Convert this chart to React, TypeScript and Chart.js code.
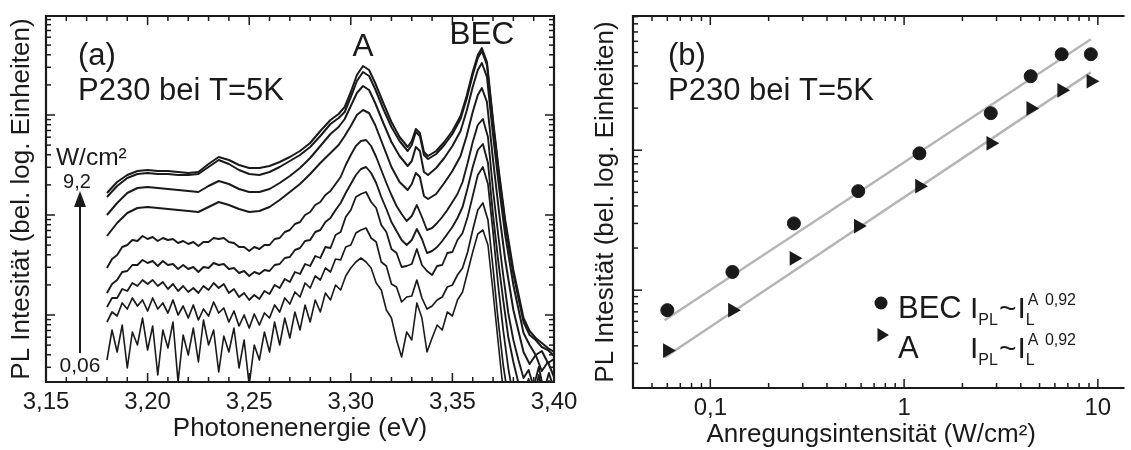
import React, { useEffect, useRef } from 'react';
import { Chart, registerables } from 'chart.js';

Chart.register(...registerables);

const FAMILY = "'Liberation Sans', Arial, Helvetica, sans-serif";
const INK = '#1a1a1a';
const FIT_GRAY = '#b5b5b5';
const font = (size: number) => `${size}px ${FAMILY}`;

// ---------------- Panel (a): PL spectra, log10 of PL intensity (arbitrary log units) ----------------
const energyCoarse = [3.18, 3.185, 3.19, 3.195, 3.2, 3.205, 3.21, 3.215, 3.22, 3.225, 3.23, 3.235, 3.24, 3.245, 3.25, 3.255, 3.26, 3.265, 3.27, 3.275, 3.28, 3.285, 3.29, 3.294, 3.297, 3.3, 3.303, 3.306, 3.309, 3.312, 3.316, 3.32, 3.324, 3.328, 3.33, 3.332, 3.334, 3.336, 3.338, 3.342, 3.346, 3.35, 3.354, 3.357, 3.36, 3.3625, 3.3645, 3.367, 3.37, 3.373, 3.376, 3.38, 3.385, 3.388, 3.391, 3.394, 3.397, 3.4];
const energyFine = [3.18, 3.1825, 3.185, 3.1875, 3.19, 3.1925, 3.195, 3.1975, 3.2, 3.2025, 3.205, 3.2075, 3.21, 3.2125, 3.215, 3.2175, 3.22, 3.2225, 3.225, 3.2275, 3.23, 3.2325, 3.235, 3.2375, 3.24, 3.2425, 3.245, 3.2475, 3.25, 3.2525, 3.255, 3.2575, 3.26, 3.2625, 3.265, 3.2675, 3.27, 3.2725, 3.275, 3.2775, 3.28, 3.2825, 3.285, 3.2875, 3.29, 3.2925, 3.295, 3.2975, 3.3, 3.3025, 3.305, 3.3075, 3.31, 3.3125, 3.315, 3.3175, 3.32, 3.3225, 3.325, 3.3275, 3.33, 3.3325, 3.335, 3.3375, 3.34, 3.3425, 3.345, 3.3475, 3.35, 3.3525, 3.355, 3.3575, 3.36, 3.3625, 3.365, 3.3675, 3.37, 3.3725, 3.375, 3.3775, 3.38, 3.3825, 3.385, 3.3875, 3.39, 3.3925, 3.395, 3.3975, 3.4];

const logPL_9_2 = [1.22, 1.33, 1.40, 1.44, 1.45, 1.44, 1.44, 1.43, 1.42, 1.43, 1.51, 1.58, 1.55, 1.50, 1.47, 1.47, 1.49, 1.53, 1.58, 1.64, 1.72, 1.84, 1.95, 2.01, 2.08, 2.23, 2.40, 2.49, 2.45, 2.32, 2.12, 1.93, 1.78, 1.68, 1.74, 1.86, 1.82, 1.63, 1.59, 1.64, 1.73, 1.84, 1.99, 2.19, 2.43, 2.60, 2.67, 2.53, 1.95, 1.42, 0.95, 0.45, -0.03, -0.16, -0.23, -0.28, -0.33, -0.37];
const logPL_6_5 = [1.18, 1.29, 1.37, 1.41, 1.42, 1.41, 1.41, 1.40, 1.40, 1.41, 1.48, 1.55, 1.51, 1.45, 1.41, 1.40, 1.43, 1.48, 1.54, 1.60, 1.68, 1.79, 1.91, 1.97, 2.03, 2.18, 2.34, 2.43, 2.39, 2.26, 2.06, 1.88, 1.74, 1.64, 1.70, 1.83, 1.79, 1.60, 1.56, 1.61, 1.70, 1.81, 1.96, 2.16, 2.40, 2.57, 2.64, 2.50, 1.92, 1.39, 0.91, 0.41, -0.07, -0.20, -0.25, -0.32, -0.35, -0.41];
const logPL_4_5 = [1.00, 1.12, 1.22, 1.27, 1.28, 1.27, 1.26, 1.25, 1.24, 1.23, 1.29, 1.34, 1.31, 1.26, 1.23, 1.23, 1.26, 1.32, 1.39, 1.47, 1.57, 1.69, 1.81, 1.88, 1.96, 2.09, 2.22, 2.29, 2.25, 2.12, 1.92, 1.73, 1.59, 1.49, 1.54, 1.68, 1.64, 1.43, 1.40, 1.47, 1.57, 1.69, 1.84, 2.04, 2.28, 2.45, 2.52, 2.38, 1.80, 1.27, 0.80, 0.30, -0.18, -0.30, -0.40, -0.36, -0.48, -0.44];
const logPL_2_8 = [0.79, 0.92, 1.02, 1.07, 1.08, 1.07, 1.06, 1.05, 1.04, 1.03, 1.08, 1.13, 1.10, 1.06, 1.03, 1.04, 1.08, 1.15, 1.23, 1.31, 1.41, 1.52, 1.62, 1.70, 1.79, 1.89, 2.00, 2.05, 2.02, 1.90, 1.69, 1.48, 1.33, 1.25, 1.31, 1.42, 1.38, 1.19, 1.16, 1.21, 1.32, 1.44, 1.59, 1.79, 2.03, 2.20, 2.27, 2.13, 1.55, 1.02, 0.55, 0.05, -0.37, -0.49, -0.40, -0.56, -0.47, -0.62];
const logPL_1_2 = [0.47, 0.56, 0.60, 0.68, 0.70, 0.75, 0.74, 0.79, 0.76, 0.78, 0.74, 0.77, 0.75, 0.76, 0.72, 0.74, 0.71, 0.73, 0.69, 0.73, 0.73, 0.77, 0.76, 0.77, 0.73, 0.72, 0.68, 0.68, 0.64, 0.68, 0.66, 0.70, 0.70, 0.76, 0.77, 0.83, 0.85, 0.91, 0.93, 1.00, 1.03, 1.10, 1.13, 1.20, 1.24, 1.31, 1.38, 1.50, 1.60, 1.69, 1.74, 1.75, 1.69, 1.58, 1.45, 1.32, 1.20, 1.09, 1.01, 0.94, 0.99, 1.10, 0.98, 0.85, 0.87, 0.92, 0.98, 1.05, 1.13, 1.21, 1.33, 1.52, 1.73, 1.90, 1.96, 1.78, 1.25, 0.81, 0.40, 0.02, -0.25, -0.45, -0.63, -0.55, -0.72, -0.52, -0.76, -0.58, -0.74];
const logPL_0_58 = [0.22, 0.31, 0.35, 0.43, 0.44, 0.50, 0.50, 0.55, 0.52, 0.54, 0.49, 0.54, 0.50, 0.51, 0.46, 0.50, 0.46, 0.48, 0.43, 0.48, 0.47, 0.52, 0.50, 0.51, 0.46, 0.47, 0.42, 0.44, 0.39, 0.43, 0.41, 0.45, 0.44, 0.50, 0.51, 0.57, 0.58, 0.65, 0.67, 0.74, 0.75, 0.83, 0.85, 0.93, 0.97, 1.05, 1.12, 1.22, 1.31, 1.40, 1.46, 1.48, 1.42, 1.32, 1.18, 1.06, 0.93, 0.84, 0.75, 0.70, 0.75, 0.86, 0.76, 0.62, 0.64, 0.68, 0.74, 0.81, 0.88, 0.97, 1.08, 1.27, 1.48, 1.65, 1.71, 1.52, 1.00, 0.55, 0.15, -0.22, -0.47, -0.68, -0.80, -0.64, -0.88, -0.60, -0.82, -0.66, -0.90];
const logPL_0_27 = [0.08, 0.17, 0.17, 0.26, 0.24, 0.32, 0.29, 0.35, 0.31, 0.35, 0.29, 0.33, 0.26, 0.31, 0.24, 0.29, 0.23, 0.27, 0.22, 0.29, 0.25, 0.32, 0.27, 0.31, 0.22, 0.26, 0.18, 0.22, 0.15, 0.20, 0.16, 0.24, 0.21, 0.30, 0.27, 0.36, 0.33, 0.43, 0.41, 0.51, 0.49, 0.59, 0.57, 0.68, 0.67, 0.80, 0.83, 0.98, 1.05, 1.18, 1.21, 1.23, 1.13, 1.07, 0.90, 0.83, 0.66, 0.62, 0.48, 0.49, 0.51, 0.66, 0.50, 0.44, 0.40, 0.49, 0.50, 0.62, 0.63, 0.75, 0.82, 0.98, 1.19, 1.40, 1.48, 1.31, 0.83, 0.30, -0.15, -0.53, -0.83, -1.05, -0.95, -1.10, -1.00, -1.15, -1.05, -1.17, -1.10];
const logPL_0_13 = [-0.07, 0.03, -0.01, 0.12, 0.06, 0.17, 0.09, 0.15, 0.04, 0.17, 0.06, 0.12, 0.02, 0.15, 0.00, 0.09, -0.03, 0.10, -0.05, 0.06, -0.01, 0.13, 0.02, 0.07, -0.07, 0.04, -0.11, 0.00, -0.13, 0.01, -0.10, 0.02, -0.03, 0.10, 0.03, 0.17, 0.11, 0.23, 0.18, 0.32, 0.27, 0.39, 0.35, 0.47, 0.43, 0.56, 0.55, 0.68, 0.70, 0.82, 0.85, 0.87, 0.77, 0.73, 0.53, 0.49, 0.31, 0.28, 0.13, 0.18, 0.19, 0.35, 0.17, 0.06, 0.09, 0.15, 0.18, 0.28, 0.30, 0.40, 0.47, 0.63, 0.85, 1.05, 1.12, 0.95, 0.47, -0.05, -0.50, -0.83, -1.05, -0.95, -1.15, -1.00, -1.10, -1.03, -1.15, -1.00, -1.10];
const logPL_0_06 = [-0.45, -0.15, -0.37, -0.10, -0.53, -0.17, -0.30, -0.03, -0.35, -0.11, -0.60, -0.15, -0.33, -0.07, -0.67, -0.20, -0.40, -0.13, -0.47, -0.05, -0.30, -0.15, -0.57, -0.21, -0.37, -0.13, -0.53, -0.25, -0.70, -0.30, -0.45, -0.17, -0.37, -0.07, -0.30, -0.03, -0.23, 0.03, -0.15, 0.10, -0.07, 0.15, 0.03, 0.22, 0.15, 0.30, 0.25, 0.39, 0.47, 0.53, 0.57, 0.53, 0.47, 0.32, 0.25, 0.05, -0.03, -0.25, -0.42, -0.17, -0.25, 0.12, -0.03, -0.37, -0.23, -0.10, -0.15, 0.03, -0.01, 0.15, 0.23, 0.43, 0.63, 0.81, 0.85, 0.70, 0.23, -0.27, -0.75, -0.95, -1.05, -0.90, -1.10, -0.95, -1.07, -0.93, -1.13, -0.97, -1.10];

const energyMin = 3.15;
const energyMax = 3.4;
const energyTickStep = 0.05;
const logUnitMin = -0.67;
const logUnitMax = 2.99;
const peakEnergyA = 3.306;
const peakEnergyBEC = 3.3645;

// ---------------- Panel (b): intensity dependence ----------------
const excitation = [0.06, 0.13, 0.27, 0.58, 1.2, 2.8, 4.5, 6.5, 9.2];
const becIntensity = [0.72, 1.35, 3.0, 5.1, 9.5, 18.4, 33.8, 48.5, 48.5];
const aIntensity = [0.37, 0.72, 1.69, 2.87, 5.53, 11.2, 19.9, 26.8, 31.1];
const fitExcitation = [0.058, 9.2];
const becFit = [0.61, 62];
const aFit = [0.33, 36];
const excitationTicks = [0.1, 1, 10];
const excitationTickLabels = ['0,1', '1', '10'];
const excitationMin = 0.0399;
const excitationMax = 13.4;
const plMin = 0.2;
const plMax = 91;

type TickSpec = { major: number[]; minor: number[] };

function logTicks(min: number, max: number): TickSpec {
  const major: number[] = [];
  const minor: number[] = [];
  for (let n = -3; n <= 3; n++) {
    const d = Math.pow(10, n);
    if (d >= min && d <= max) major.push(d);
    for (let m = 2; m <= 9; m++) {
      const v = m * d;
      if (v >= min && v <= max) minor.push(v);
    }
  }
  return { major, minor };
}

function logUnitTicks(min: number, max: number): TickSpec {
  const major: number[] = [];
  const minor: number[] = [];
  for (let n = -2; n <= 3; n++) {
    if (n >= min && n <= max) major.push(n);
    for (let m = 2; m <= 9; m++) {
      const v = n + Math.log10(m);
      if (v >= min && v <= max) minor.push(v);
    }
  }
  return { major, minor };
}

function makeFramePlugin(xt: TickSpec, yt: TickSpec, drawRight: boolean) {
  return {
    id: 'frameTicks',
    afterDatasetsDraw(chart: any) {
      const { ctx, chartArea: a } = chart;
      const xs = chart.scales.x;
      const ys = chart.scales.y;
      ctx.save();
      ctx.strokeStyle = INK;
      const seg = (x1: number, y1: number, x2: number, y2: number) => {
        ctx.beginPath();
        ctx.moveTo(x1, y1);
        ctx.lineTo(x2, y2);
        ctx.stroke();
      };
      ctx.lineWidth = 1.5;
      const xTickDraw = (vals: number[], len: number) =>
        vals.forEach((v) => {
          const p = xs.getPixelForValue(v);
          if (p < a.left - 0.5 || p > a.right + 0.5) return;
          seg(p, a.bottom, p, a.bottom - len);
          seg(p, a.top, p, a.top + len);
        });
      const yTickDraw = (vals: number[], len: number) =>
        vals.forEach((v) => {
          const p = ys.getPixelForValue(v);
          if (p < a.top - 0.5 || p > a.bottom + 0.5) return;
          seg(a.left, p, a.left + len, p);
          if (drawRight) seg(a.right, p, a.right - len, p);
        });
      xTickDraw(xt.major, 9);
      xTickDraw(xt.minor, 5);
      yTickDraw(yt.major, 9);
      yTickDraw(yt.minor, 5);
      ctx.lineWidth = 2.2;
      ctx.beginPath();
      if (drawRight) {
        ctx.rect(a.left, a.top, a.right - a.left, a.bottom - a.top);
      } else {
        ctx.moveTo(a.right + 2, a.top);
        ctx.lineTo(a.left, a.top);
        ctx.lineTo(a.left, a.bottom);
        ctx.lineTo(a.right + 2, a.bottom);
      }
      ctx.stroke();
      ctx.restore();
    },
  };
}

const leftAnnotations = {
  id: 'annotA',
  afterDraw(chart: any) {
    const { ctx } = chart;
    const xs = chart.scales.x;
    ctx.save();
    ctx.fillStyle = INK;
    ctx.strokeStyle = INK;
    ctx.textBaseline = 'middle';
    ctx.textAlign = 'left';
    ctx.font = font(31);
    ctx.fillText('(a)', 78, 56);
    ctx.fillText('P230 bei T=5K', 78, 91);
    ctx.textAlign = 'center';
    ctx.font = font(31.5);
    ctx.fillText('A', xs.getPixelForValue(peakEnergyA), 47);
    ctx.fillText('BEC', xs.getPixelForValue(peakEnergyBEC), 35);
    ctx.textAlign = 'left';
    ctx.font = font(24.5);
    ctx.fillText('W/cm²', 56, 158);
    ctx.textAlign = 'center';
    ctx.font = font(20);
    ctx.fillText('9,2', 77, 182);
    ctx.font = font(21);
    ctx.fillText('0,06', 80, 366);
    // arrow
    ctx.lineWidth = 2;
    ctx.beginPath();
    ctx.moveTo(80, 353);
    ctx.lineTo(80, 200);
    ctx.stroke();
    ctx.beginPath();
    ctx.moveTo(80, 191);
    ctx.lineTo(74, 207);
    ctx.lineTo(86, 207);
    ctx.closePath();
    ctx.fill();
    ctx.restore();
  },
};

function drawFormula(ctx: CanvasRenderingContext2D, x: number, base: number) {
  ctx.textAlign = 'left';
  ctx.textBaseline = 'alphabetic';
  ctx.font = font(30);
  ctx.fillText('I', x, base);
  let cx = x + ctx.measureText('I').width;
  ctx.font = font(16);
  ctx.fillText('PL', cx, base + 7);
  cx += ctx.measureText('PL').width + 1;
  ctx.font = font(30);
  ctx.fillText('~', cx, base);
  cx += ctx.measureText('~').width + 1;
  ctx.fillText('I', cx, base);
  cx += ctx.measureText('I').width;
  ctx.font = font(16);
  ctx.fillText('L', cx, base + 7);
  ctx.fillText('A', cx + 2, base - 13);
  cx += 2 + ctx.measureText('A ').width + 2;
  ctx.fillText('0,92', cx, base - 13);
}

const rightAnnotations = {
  id: 'annotB',
  afterDraw(chart: any) {
    const { ctx } = chart;
    ctx.save();
    ctx.fillStyle = INK;
    ctx.textBaseline = 'middle';
    ctx.textAlign = 'left';
    ctx.font = font(31);
    ctx.fillText('(b)', 103, 56);
    ctx.fillText('P230 bei T=5K', 103, 91);
    // legend
    ctx.beginPath();
    ctx.arc(316, 303, 6.5, 0, Math.PI * 2);
    ctx.fill();
    ctx.beginPath();
    ctx.moveTo(324, 335);
    ctx.lineTo(312.5, 328);
    ctx.lineTo(312.5, 342);
    ctx.closePath();
    ctx.fill();
    ctx.textBaseline = 'alphabetic';
    ctx.font = font(31);
    ctx.fillText('BEC', 333, 318);
    ctx.fillText('A', 333, 358);
    drawFormula(ctx, 405, 318);
    drawFormula(ctx, 405, 358);
    ctx.restore();
  },
};

const leftSeries = [
  { e: energyCoarse, v: logPL_9_2, w: 2.0 },
  { e: energyCoarse, v: logPL_6_5, w: 2.0 },
  { e: energyCoarse, v: logPL_4_5, w: 2.0 },
  { e: energyCoarse, v: logPL_2_8, w: 2.0 },
  { e: energyFine, v: logPL_1_2, w: 1.9 },
  { e: energyFine, v: logPL_0_58, w: 1.9 },
  { e: energyFine, v: logPL_0_27, w: 1.8 },
  { e: energyFine, v: logPL_0_13, w: 1.7 },
  { e: energyFine, v: logPL_0_06, w: 1.6 },
];

const energyMinor: number[] = [];
for (let k = 316; k < 340; k++) if (k % 5 !== 0) energyMinor.push(k / 100);
const energyMajor: number[] = [];
for (let k = 315; k <= 340; k += 5) energyMajor.push(k / 100);

export default function App() {
  const leftRef = useRef<HTMLCanvasElement>(null);
  const rightRef = useRef<HTMLCanvasElement>(null);

  useEffect(() => {
    const left = new Chart(leftRef.current as HTMLCanvasElement, {
      type: 'line',
      data: {
        datasets: leftSeries.map((s) => ({
          data: s.e.map((x, i) => ({ x, y: s.v[i] })),
          borderColor: INK,
          borderWidth: s.w,
          pointRadius: 0,
          tension: 0,
          fill: false,
          borderJoinStyle: 'round',
        })),
      },
      options: {
        responsive: false,
        animation: false,
        events: [],
        layout: { padding: { top: 16, right: 46, left: 0, bottom: 0 } },
        plugins: { legend: { display: false }, tooltip: { enabled: false } },
        scales: {
          x: {
            type: 'linear',
            min: energyMin,
            max: energyMax,
            grid: { display: false, drawTicks: false },
            border: { display: false },
            ticks: {
              stepSize: energyTickStep,
              autoSkip: false,
              maxRotation: 0,
              padding: 6,
              color: INK,
              font: { family: FAMILY, size: 24 },
              callback: (v: any) => Number(v).toFixed(2).replace('.', ','),
            },
            title: {
              display: true,
              text: 'Photonenenergie (eV)',
              color: INK,
              font: { family: FAMILY, size: 26 },
              padding: { top: 0, bottom: 6 },
            },
            afterFit: (s: any) => {
              s.height = 68;
              s.paddingLeft = 0;
              s.paddingRight = 0;
            },
          },
          y: {
            type: 'linear',
            min: logUnitMin,
            max: logUnitMax,
            grid: { display: false, drawTicks: false },
            border: { display: false },
            ticks: { display: false },
            title: {
              display: true,
              text: 'PL Intesität (bel. log. Einheiten)',
              color: INK,
              font: { family: FAMILY, size: 26 },
              padding: { top: 6, bottom: 0 },
            },
            afterFit: (s: any) => {
              s.width = 46;
            },
          },
        },
      } as any,
      plugins: [
        makeFramePlugin({ major: energyMajor, minor: energyMinor }, logUnitTicks(logUnitMin, logUnitMax), true),
        leftAnnotations,
      ],
    });

    const right = new Chart(rightRef.current as HTMLCanvasElement, {
      type: 'scatter',
      data: {
        datasets: [
          {
            data: fitExcitation.map((x, i) => ({ x, y: becFit[i] })),
            showLine: true,
            borderColor: FIT_GRAY,
            borderWidth: 2.5,
            pointRadius: 0,
            order: 2,
          },
          {
            data: fitExcitation.map((x, i) => ({ x, y: aFit[i] })),
            showLine: true,
            borderColor: FIT_GRAY,
            borderWidth: 2.5,
            pointRadius: 0,
            order: 2,
          },
          {
            data: excitation.map((x, i) => ({ x, y: becIntensity[i] })),
            pointStyle: 'circle',
            pointRadius: 6.5,
            pointBackgroundColor: INK,
            pointBorderColor: INK,
            pointBorderWidth: 1,
            order: 0,
          },
          {
            data: excitation.map((x, i) => ({ x, y: aIntensity[i] })),
            pointStyle: 'triangle',
            pointRotation: 90,
            pointRadius: 8.5,
            pointBackgroundColor: INK,
            pointBorderColor: INK,
            pointBorderWidth: 0,
            order: 0,
          },
        ],
      },
      options: {
        responsive: false,
        animation: false,
        events: [],
        layout: { padding: { top: 16, right: 0, left: 0, bottom: 0 } },
        plugins: { legend: { display: false }, tooltip: { enabled: false } },
        scales: {
          x: {
            type: 'logarithmic',
            min: excitationMin,
            max: excitationMax,
            grid: { display: false, drawTicks: false },
            border: { display: false },
            ticks: {
              autoSkip: false,
              maxRotation: 0,
              padding: 6,
              color: INK,
              font: { family: FAMILY, size: 24 },
              callback: (v: any) => {
                const idx = excitationTicks.findIndex((t) => Math.abs(Math.log10(Number(v)) - Math.log10(t)) < 1e-6);
                return idx >= 0 ? excitationTickLabels[idx] : '';
              },
            },
            title: {
              display: true,
              text: 'Anregungsintensität (W/cm²)\u2002',
              color: INK,
              font: { family: FAMILY, size: 26 },
              padding: { top: 0, bottom: 0 },
            },
            afterFit: (s: any) => {
              s.height = 62;
              s.paddingLeft = 0;
              s.paddingRight = 0;
            },
          },
          y: {
            type: 'logarithmic',
            min: plMin,
            max: plMax,
            grid: { display: false, drawTicks: false },
            border: { display: false },
            ticks: { display: false },
            title: {
              display: true,
              text: 'PL Intesität (bel. log. Einheiten)',
              color: INK,
              font: { family: FAMILY, size: 26 },
              padding: { top: 25, bottom: 0 },
            },
            afterFit: (s: any) => {
              s.width = 68;
            },
          },
        },
      } as any,
      plugins: [makeFramePlugin(logTicks(excitationMin, excitationMax), logTicks(plMin, plMax), false), rightAnnotations],
    });

    return () => {
      left.destroy();
      right.destroy();
    };
  }, []);

  return (
    <div style={{ position: 'absolute', left: 0, top: 0, width: 1131, height: 450, background: '#fff', overflow: 'hidden' }}>
      <canvas ref={leftRef} width={600} height={450} style={{ position: 'absolute', left: 0, top: 0 }} />
      <canvas ref={rightRef} width={566} height={450} style={{ position: 'absolute', left: 565, top: 0 }} />
    </div>
  );
}
